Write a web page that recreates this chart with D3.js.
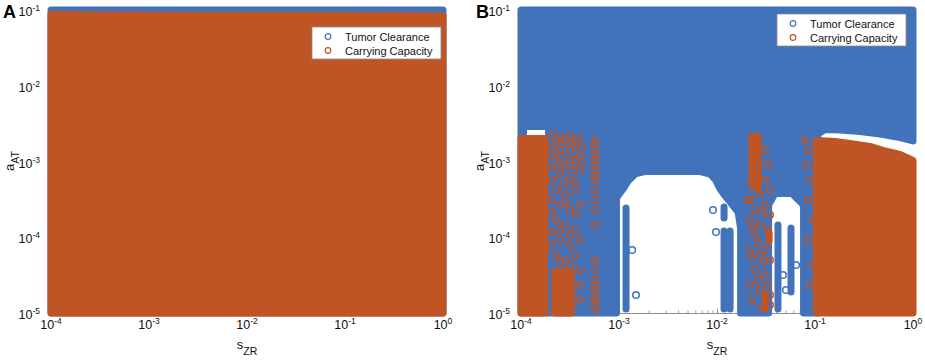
<!DOCTYPE html>
<html>
<head>
<meta charset="utf-8">
<script src="https://cdn.jsdelivr.net/npm/d3@7"></script>
<style>
  body { margin: 0; background: #fff; }
  svg { display: block; font-family: "Liberation Sans", Arial, sans-serif; }
</style>
</head>
<body>
<div id="chart"></div>
<script>
// Axis values
const sDomain = [1e-4, 1];
const aDomain = [1e-5, 1e-1];
const sTicks = [1e-4, 1e-3, 1e-2, 1e-1, 1];
const sTickExp = ["-4", "-3", "-2", "-1", "0"];
const aTicks = [1e-5, 1e-4, 1e-3, 1e-2, 1e-1];
const aTickExp = ["-5", "-4", "-3", "-2", "-1"];
const seriesNames = ["Tumor Clearance", "Carrying Capacity"];

// Panel A: outline of the region covered by each series, [s, a]
const clearanceA = [[1e-4, 1e-1], [1, 1e-1], [1, 1e-5], [1e-4, 1e-5]];
const capacityA = [[1e-4, 0.088], [3e-4, 0.086], [3e-3, 0.085], [0.1, 0.085], [1, 0.084], [1, 1e-5], [1e-4, 1e-5]];

// Panel B: tumor clearance region (outer outline with the empty gaps cut in, plus one hole)
const clearanceB = [
  [1e-4, 1e-1], [1, 1e-1], [1, 1.87e-3], [0.736, 2.07e-3], [0.46, 2.31e-3], [0.288, 2.49e-3],
  [0.18, 2.61e-3], [0.126, 2.64e-3], [0.107, 2.3e-3], [0.107, 1e-5],
  [7.64e-2, 1e-5], [7.64e-2, 2.67e-4], [5.82e-2, 3.78e-4], [3.91e-2, 3.78e-4], [3.36e-2, 2.67e-4], [3.36e-2, 1e-5],
  [1.74e-2, 1e-5], [1.74e-2, 1.32e-4], [1.64e-2, 2.15e-4], [1.39e-2, 2.83e-4], [1.19e-2, 3.61e-4],
  [1.06e-2, 4.47e-4], [9.66e-3, 5.70e-4], [8.49e-3, 6.84e-4], [6.72e-3, 7.38e-4], [1.84e-3, 7.38e-4],
  [1.49e-3, 6.95e-4], [1.24e-3, 5.53e-4], [1.10e-3, 4.33e-4], [9.42e-4, 3.30e-4], [9.42e-4, 1e-5],
  [1e-4, 1e-5]
];
const clearanceBHole = [[1.06e-4, 2.90e-3], [1.91e-4, 2.90e-3], [1.91e-4, 1.65e-3], [1.06e-4, 1.65e-3]];
// vertical runs of markers: [s, a top, a bottom]
const clearanceBRuns = [
  [1.18e-3, 2.43e-4, 1.13e-5], [1.18e-2, 2.51e-4, 1.80e-4], [1.18e-2, 1.21e-4, 1.13e-5],
  [1.36e-2, 1.21e-4, 1.13e-5], [4.19e-2, 1.45e-4, 1.13e-5], [5.69e-2, 1.32e-4, 1.89e-5]
];
const clearanceBPoints = [
  [4.71e-2, 3.18e-5], [5.06e-2, 2.01e-5], [6.40e-2, 4.31e-5], [9.10e-3, 2.29e-4],
  [9.77e-3, 1.17e-4], [1.49e-3, 1.73e-5], [1.36e-3, 6.79e-5]
];

// Panel B: carrying capacity regions
const capacityBLeft = [[1e-4, 2.01e-3], [1.74e-4, 2.01e-3], [1.74e-4, 1e-5], [1e-4, 1e-5]];
const capacityBChunk = [[2.20e-4, 3.53e-5], [3.27e-4, 3.53e-5], [3.27e-4, 1e-5], [2.20e-4, 1e-5]];
const capacityBRight = [
  [0.1035, 1.89e-3], [0.160, 1.84e-3], [0.228, 1.73e-3], [0.364, 1.58e-3], [0.494, 1.40e-3],
  [0.736, 1.24e-3], [1, 1.03e-3], [1, 1e-5], [0.1035, 1e-5]
];
const capacityBRuns = [
  [2.28e-2, 2.17e-3, 4.75e-4], [2.62e-2, 2.17e-3, 4.21e-4],
  [3.40e-2, 1.14e-4, 8.91e-5], [3.09e-2, 1.78e-5, 1.13e-5]
];
const capacityBPoints = [
  // left mixed band
  [2.28e-4, 1.92e-3], [2.81e-4, 1.92e-3], [3.56e-4, 1.65e-3], [2.50e-4, 1.42e-3], [3.16e-4, 1.42e-3],
  [4.00e-4, 1.22e-3], [2.28e-4, 1.05e-3], [2.81e-4, 8.99e-4], [3.56e-4, 1.05e-3], [2.50e-4, 6.64e-4],
  [3.16e-4, 5.70e-4], [4.00e-4, 7.73e-4], [2.28e-4, 4.21e-4], [2.81e-4, 3.61e-4], [3.56e-4, 4.21e-4],
  [2.50e-4, 2.67e-4], [3.16e-4, 2.29e-4], [4.00e-4, 2.67e-4], [2.28e-4, 1.69e-4], [2.81e-4, 1.45e-4],
  [3.56e-4, 1.25e-4], [2.50e-4, 9.20e-5], [3.16e-4, 7.91e-5], [4.00e-4, 9.20e-5], [2.28e-4, 5.83e-5],
  [2.81e-4, 5.01e-5], [3.56e-4, 5.83e-5], [4.00e-4, 3.70e-5], [4.00e-4, 2.34e-5], [4.00e-4, 1.49e-5],
  [2.07e-4, 2.24e-3], [2.56e-4, 2.10e-3], [3.16e-4, 2.17e-3], [3.91e-4, 2.04e-3], [2.07e-4, 1.55e-3],
  [2.62e-4, 1.65e-3], [3.31e-4, 1.75e-3], [4.19e-4, 1.55e-3], [2.07e-4, 1.22e-3], [2.56e-4, 1.15e-3],
  [3.16e-4, 1.05e-3], [4.19e-4, 9.85e-4], [2.07e-4, 8.21e-4], [2.56e-4, 8.21e-4], [3.31e-4, 7.73e-4],
  [2.07e-4, 5.70e-4], [2.68e-4, 4.90e-4], [3.56e-4, 5.36e-4], [2.07e-4, 3.10e-4], [2.88e-4, 2.83e-4],
  [3.64e-4, 1.97e-4], [2.07e-4, 2.15e-4], [2.50e-4, 1.25e-4], [3.16e-4, 1.07e-4], [2.07e-4, 7.91e-5],
  [2.50e-4, 4.71e-5], [3.16e-4, 4.31e-5], [2.07e-4, 1.17e-4],
  // column near 6e-4
  [5.69e-4, 1.92e-3], [5.69e-4, 1.42e-3], [5.69e-4, 1.05e-3], [5.69e-4, 7.73e-4], [5.69e-4, 5.70e-4],
  [5.69e-4, 4.21e-4], [5.69e-4, 3.10e-4], [5.69e-4, 2.29e-4], [5.69e-4, 1.45e-4], [5.69e-4, 5.01e-5],
  [5.69e-4, 3.70e-5], [5.69e-4, 2.73e-5], [5.69e-4, 2.01e-5], [5.69e-4, 1.49e-5], [5.69e-4, 1.10e-5],
  [5.69e-4, 1.65e-3], [5.69e-4, 1.22e-3], [5.69e-4, 8.99e-4], [5.69e-4, 6.64e-4], [5.69e-4, 2.34e-5],
  [5.69e-4, 1.73e-5], [5.69e-4, 1.28e-5],
  // middle band near 3e-2
  [2.75e-2, 3.61e-4], [2.17e-2, 3.10e-4], [2.44e-2, 2.29e-4], [3.09e-2, 2.67e-4], [2.17e-2, 1.69e-4],
  [2.75e-2, 1.45e-4], [3.47e-2, 1.97e-4], [2.44e-2, 1.07e-4], [3.09e-2, 6.79e-5], [2.17e-2, 6.79e-5],
  [2.75e-2, 5.83e-5], [3.47e-2, 5.01e-5], [2.44e-2, 3.70e-5], [3.09e-2, 3.18e-5], [2.17e-2, 2.34e-5],
  [2.75e-2, 2.01e-5], [3.47e-2, 1.73e-5], [3.09e-2, 1.42e-3], [3.31e-2, 8.99e-4], [3.09e-2, 5.70e-4],
  [3.47e-2, 4.21e-4], [3.47e-2, 1.28e-5],
  [2.07e-2, 3.10e-4], [2.88e-2, 2.15e-4], [2.28e-2, 1.32e-4], [3.31e-2, 1.25e-4], [2.62e-2, 8.39e-5],
  [2.28e-2, 5.32e-5], [3.02e-2, 4.71e-5], [2.62e-2, 2.73e-5], [3.31e-2, 2.34e-5], [2.28e-2, 1.49e-5],
  [2.88e-2, 1.16e-5],
  // edge of the right block
  [7.91e-2, 1.92e-3], [8.49e-2, 1.42e-3], [8.09e-2, 8.99e-4], [8.89e-2, 5.70e-4], [8.49e-2, 3.10e-4],
  [9.31e-2, 1.69e-4], [8.49e-2, 9.20e-5], [9.31e-2, 4.31e-5], [8.89e-2, 2.34e-5]
];

const w = 925;
const h = 360;
const plotTop = 10;
const plotBottom = 313;
const blue = "#4273BA";
const orange = "#BF5424";
const markerWidth = 7; // solid regions are drawn with a round stroke the size of a marker

const svg = d3.select("#chart").append("svg")
  .attr("width", w)
  .attr("height", h);

function drawPanel(opt) {
  const g = svg.append("g");
  const x = d3.scaleLog().domain(sDomain).range([opt.left, opt.right]);
  const y = d3.scaleLog().domain(aDomain).range([plotBottom, plotTop]);
  const line = d3.line().x(d => x(d[0])).y(d => y(d[1]));

  // gray axes underneath the markers
  const axisColor = "#8a8a8a";
  const xMinor = g.append("g").attr("transform", `translate(0,${plotBottom})`)
    .call(d3.axisBottom(x).tickSize(-2.5).tickSizeOuter(0).tickFormat(""));
  const xMajor = g.append("g").attr("transform", `translate(0,${plotBottom})`)
    .call(d3.axisBottom(x).tickValues(sTicks).tickSize(-4.5).tickSizeOuter(0).tickFormat(""));
  const yMinor = g.append("g").attr("transform", `translate(${opt.left},0)`)
    .call(d3.axisLeft(y).tickSize(-2.5).tickSizeOuter(0).tickFormat(""));
  [xMinor, xMajor, yMinor].forEach(a => {
    a.selectAll("path, line").attr("stroke", axisColor).attr("stroke-width", 0.8);
  });

  // regions
  const region = (shapes, color) => {
    g.append("path")
      .attr("d", shapes.map(s => line(s) + "Z").join(""))
      .attr("fill", color)
      .attr("fill-rule", "evenodd")
      .attr("stroke", color)
      .attr("stroke-width", markerWidth)
      .attr("stroke-linejoin", "round");
  };
  const runs = (data, color) => {
    g.selectAll(null).data(data).enter().append("line")
      .attr("x1", d => x(d[0])).attr("x2", d => x(d[0]))
      .attr("y1", d => y(d[1])).attr("y2", d => y(d[2]))
      .attr("stroke", color)
      .attr("stroke-width", markerWidth)
      .attr("stroke-linecap", "round");
  };
  const points = (data, color) => {
    g.selectAll(null).data(data).enter().append("circle")
      .attr("cx", d => x(d[0])).attr("cy", d => y(d[1]))
      .attr("r", 3.3)
      .attr("fill", "none")
      .attr("stroke", color)
      .attr("stroke-width", 1.5);
  };

  opt.clearance.forEach(s => region(s, blue));
  runs(opt.clearanceRuns, blue);
  points(opt.clearancePoints, blue);
  opt.capacity.forEach(s => region(s, orange));
  runs(opt.capacityRuns, orange);
  points(opt.capacityPoints, orange);

  // tick labels
  g.selectAll(null).data(sTicks).enter().append("text")
    .attr("x", d => x(d)).attr("y", plotBottom + 16)
    .attr("text-anchor", "middle")
    .attr("font-size", 12.5)
    .attr("fill", "#111")
    .each(function (d, i) {
      d3.select(this).append("tspan").text("10");
      d3.select(this).append("tspan").attr("dy", -5).attr("font-size", 8.5).text(sTickExp[i]);
    });
  g.selectAll(null).data(aTicks).enter().append("text")
    .attr("x", opt.left - 11).attr("y", d => y(d) + 6)
    .attr("text-anchor", "end")
    .attr("font-size", 12.5)
    .attr("fill", "#111")
    .each(function (d, i) {
      d3.select(this).append("tspan").text("10");
      d3.select(this).append("tspan").attr("dy", -5).attr("font-size", 8.5).text(aTickExp[i]);
    });

  // axis titles
  const xt = g.append("text")
    .attr("x", (opt.left + opt.right) / 2).attr("y", 349)
    .attr("text-anchor", "middle").attr("font-size", 13).attr("fill", "#111");
  xt.append("tspan").text("s");
  xt.append("tspan").attr("dy", 6).attr("font-size", 10.5).text("ZR");

  const yt = g.append("text")
    .attr("transform", `translate(${opt.left - 37},161) rotate(-90)`)
    .attr("text-anchor", "middle").attr("font-size", 13).attr("fill", "#111");
  yt.append("tspan").text("a");
  yt.append("tspan").attr("dy", 5).attr("font-size", 10.5).text("AT");

  // panel letter
  g.append("text")
    .attr("x", opt.letterX).attr("y", 18)
    .attr("font-size", 18).attr("font-weight", "bold")
    .text(opt.label);

  // legend
  const lg = g.append("g").attr("transform", `translate(${opt.legendX},${opt.legendY})`);
  lg.append("rect")
    .attr("width", 129).attr("height", 32)
    .attr("fill", "#fff").attr("stroke", "#8c8c8c").attr("stroke-width", 0.8);
  seriesNames.forEach((name, i) => {
    lg.append("circle")
      .attr("cx", 16).attr("cy", 9.5 + i * 14)
      .attr("r", 2.8).attr("fill", "none")
      .attr("stroke", i === 0 ? blue : orange).attr("stroke-width", 1.2);
    lg.append("text")
      .attr("x", 33).attr("y", 13.5 + i * 14)
      .attr("font-size", 11).attr("fill", "#111")
      .text(name);
  });
}

drawPanel({
  label: "A", letterX: 3, left: 51, right: 443, legendX: 312, legendY: 27,
  clearance: [[clearanceA]], clearanceRuns: [], clearancePoints: [],
  capacity: [[capacityA]], capacityRuns: [], capacityPoints: []
});

drawPanel({
  label: "B", letterX: 476, left: 521, right: 913, legendX: 777, legendY: 14,
  clearance: [[clearanceB, clearanceBHole]], clearanceRuns: clearanceBRuns, clearancePoints: clearanceBPoints,
  capacity: [[capacityBLeft], [capacityBChunk], [capacityBRight]], capacityRuns: capacityBRuns, capacityPoints: capacityBPoints
});
</script>
</body>
</html>
